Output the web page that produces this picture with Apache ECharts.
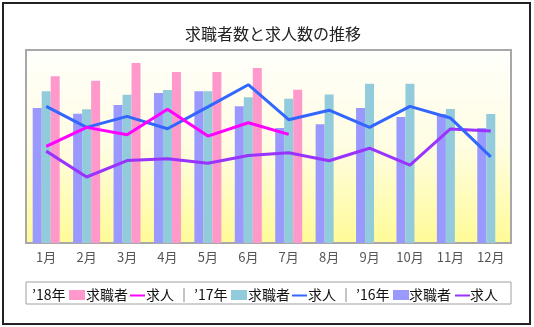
<!DOCTYPE html>
<html>
<head>
<meta charset="utf-8">
<style>
  html, body { margin: 0; padding: 0; background: #ffffff; }
  #chart { width: 534px; height: 327px; }
</style>
<script src="https://cdn.jsdelivr.net/npm/echarts@6/dist/echarts.min.js"></script>
</head>
<body>
<div id="chart"></div>
<script>
// Monthly job seekers (bars) and job openings (lines), relative index values
const months = ['1月', '2月', '3月', '4月', '5月', '6月', '7月', '8月', '9月', '10月', '11月', '12月'];

const seekers16 = [69.9, 67.0, 71.5, 77.7, 78.6, 70.8, 59.6, 61.5, 69.9, 65.3, 66.8, 59.6];
const seekers17 = [78.6, 69.3, 76.8, 79.3, 78.6, 75.5, 74.8, 77.0, 82.5, 82.5, 69.4, 66.8];
const seekers18 = [86.4, 84.1, 93.3, 88.6, 88.6, 90.7, 79.4];

const openings16 = [47.6, 34.2, 42.7, 43.6, 41.3, 45.3, 46.8, 42.6, 49.1, 40.4, 59.1, 58.0];
const openings17 = [70.8, 59.9, 65.6, 59.2, 70.5, 82.0, 63.9, 68.8, 59.9, 70.8, 64.8, 44.6];
const openings18 = [50.1, 59.9, 56.1, 69.3, 55.4, 62.3, 56.3];

const colors = {
  bar16: '#9999ff',
  bar17: '#92cbdb',
  bar18: '#ff99cc',
  line16: '#9933ff',
  line17: '#3366ff',
  line18: '#ff00ff'
};

const FONT = '"Noto Sans CJK JP", "Noto Sans", sans-serif';

const chart = echarts.init(document.getElementById('chart'), null, { renderer: 'canvas' });

function barSeries(name, data, color) {
  return {
    name: name,
    type: 'bar',
    data: data,
    barWidth: 9,
    barGap: '0%',
    itemStyle: { color: color },
    emphasis: { disabled: true }
  };
}

function lineSeries(name, data, color) {
  return {
    name: name,
    type: 'line',
    data: data,
    symbol: 'none',
    smooth: false,
    lineStyle: { color: color, width: 3 },
    itemStyle: { color: color },
    emphasis: { disabled: true }
  };
}

// Legend row: text labels, colour swatches and line samples
const legendY = 295;
const legendText = (x, text) => ({
  type: 'text', x: x, y: legendY,
  style: { text: text, font: '14px ' + FONT, fill: '#111', textVerticalAlign: 'middle' }
});
const legendBox = (x, color) => ({
  type: 'rect', shape: { x: x, y: legendY - 5, width: 16, height: 10 },
  style: { fill: color }
});
const legendLine = (x, color) => ({
  type: 'line', shape: { x1: x, y1: legendY + 0.5, x2: x + 15, y2: legendY + 0.5 },
  style: { stroke: color, lineWidth: 2 }
});
const legendSep = (x) => ({
  type: 'line', shape: { x1: x, y1: legendY - 7, x2: x, y2: legendY + 7 },
  style: { stroke: '#888', lineWidth: 1 }
});

const option = {
  backgroundColor: '#ffffff',
  animation: false,
  grid: {
    left: 26, right: 23, top: 50, bottom: 84,
    show: true,
    borderColor: '#a8a8a8',
    borderWidth: 2,
    backgroundColor: new echarts.graphic.LinearGradient(0, 0, 0, 1, [
      { offset: 0, color: '#fffffc' },
      { offset: 0.5, color: '#fffde2' },
      { offset: 1, color: '#fffb96' }
    ])
  },
  xAxis: {
    type: 'category',
    data: months,
    boundaryGap: true,
    axisLine: { show: false },
    axisTick: { show: false },
    splitLine: { show: false },
    axisLabel: {
      color: '#555',
      fontSize: 13,
      fontFamily: FONT,
      margin: 8,
      interval: 0
    }
  },
  yAxis: {
    type: 'value',
    min: 0,
    max: 100,
    show: false,
    splitLine: { show: false }
  },
  series: [
    barSeries("’16年 求職者", seekers16, colors.bar16),
    barSeries("’17年 求職者", seekers17, colors.bar17),
    barSeries("’18年 求職者", seekers18, colors.bar18),
    lineSeries("’16年 求人", openings16, colors.line16),
    lineSeries("’17年 求人", openings17, colors.line17),
    lineSeries("’18年 求人", openings18, colors.line18)
  ],
  graphic: [
    {
      type: 'rect', z: -10, silent: true,
      shape: { x: 3, y: 3, width: 527, height: 321 },
      style: { fill: 'none', stroke: '#222', lineWidth: 2 }
    },
    {
      type: 'text', x: 273, y: 34,
      style: {
        text: '求職者数と求人数の推移',
        font: '16px ' + FONT,
        fill: '#222',
        textAlign: 'center',
        textVerticalAlign: 'middle'
      }
    },
    {
      type: 'rect',
      shape: { x: 26, y: 282, width: 485, height: 22 },
      style: { fill: '#ffffff', stroke: '#a0a0a0', lineWidth: 1 }
    },
    legendText(32, '’18年'),
    legendBox(69, colors.bar18),
    legendText(86, '求職者'),
    legendLine(130, colors.line18),
    legendText(146, '求人'),
    legendSep(184),
    legendText(194, '’17年'),
    legendBox(231, colors.bar17),
    legendText(248, '求職者'),
    legendLine(292, colors.line17),
    legendText(308, '求人'),
    legendSep(346),
    legendText(356, '’16年'),
    legendBox(393, colors.bar16),
    legendText(409, '求職者'),
    legendLine(455, colors.line16),
    legendText(470, '求人')
  ]
};

chart.setOption(option);
</script>
</body>
</html>
